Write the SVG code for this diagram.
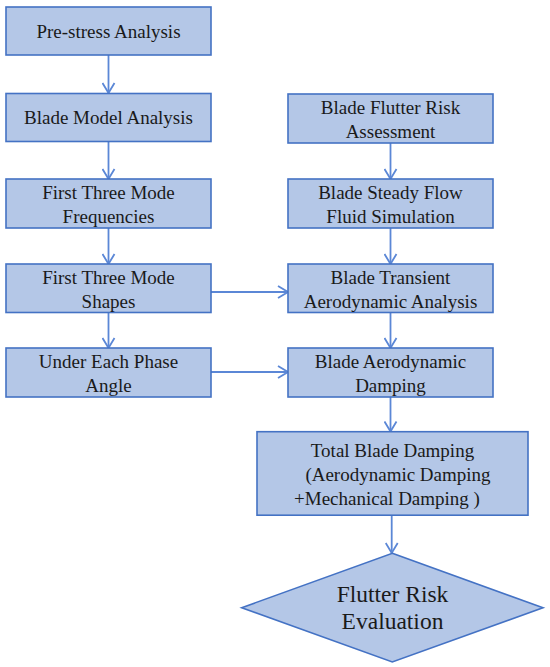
<svg xmlns="http://www.w3.org/2000/svg" width="550" height="667" viewBox="0 0 550 667">
<style>
.box{fill:#b4c7e7;stroke:#4472c4;stroke-width:1.6}
.t{font-size:19px;fill:#1a1a1a;text-anchor:middle}
.tl{font-size:23.5px;fill:#1a1a1a;text-anchor:middle}
.c{fill:none;stroke:#5b87d6;stroke-width:1.8}
</style>
<defs>
<marker id="ah" viewBox="0 0 12 14" refX="11" refY="7" markerWidth="12" markerHeight="14" markerUnits="userSpaceOnUse" orient="auto">
<path d="M1,1 L11,7 L1,13" fill="none" stroke="#5b87d6" stroke-width="1.8"/>
</marker>
</defs>
<rect width="550" height="667" fill="#ffffff"/>
<g id="connectors">
<line class="c" x1="108.5" y1="55" x2="108.5" y2="93" marker-end="url(#ah)"/>
<line class="c" x1="108.5" y1="142" x2="108.5" y2="179" marker-end="url(#ah)"/>
<line class="c" x1="108.5" y1="228" x2="108.5" y2="264" marker-end="url(#ah)"/>
<line class="c" x1="108.5" y1="312" x2="108.5" y2="348" marker-end="url(#ah)"/>
<line class="c" x1="390.5" y1="143" x2="390.5" y2="179" marker-end="url(#ah)"/>
<line class="c" x1="390.5" y1="228" x2="390.5" y2="264" marker-end="url(#ah)"/>
<line class="c" x1="390.5" y1="312" x2="390.5" y2="348" marker-end="url(#ah)"/>
<line class="c" x1="390.5" y1="397" x2="390.5" y2="431.5" marker-end="url(#ah)"/>
<line class="c" x1="391.7" y1="515" x2="391.7" y2="553" marker-end="url(#ah)"/>
<line class="c" x1="211" y1="292" x2="288" y2="292" marker-end="url(#ah)"/>
<line class="c" x1="211" y1="372" x2="288" y2="372" marker-end="url(#ah)"/>
</g>
<g font-family="Liberation Serif, Times New Roman, DejaVu Serif, serif">
<g id="n1"><rect class="box" x="6" y="7" width="205" height="48"/><text class="t" x="108.5" y="37.5">Pre-stress Analysis</text></g>
<g id="n2"><rect class="box" x="6" y="93.5" width="205" height="48"/><text class="t" x="108.5" y="124">Blade Model Analysis</text></g>
<g id="n3"><rect class="box" x="6" y="179" width="205" height="49"/><text class="t" x="108.5" y="199">First Three Mode</text><text class="t" x="108.5" y="223">Frequencies</text></g>
<g id="n4"><rect class="box" x="6" y="264" width="205" height="48.5"/><text class="t" x="108.5" y="284">First Three Mode</text><text class="t" x="108.5" y="308">Shapes</text></g>
<g id="n5"><rect class="box" x="6" y="348" width="205" height="49"/><text class="t" x="108.5" y="368">Under Each Phase</text><text class="t" x="108.5" y="392">Angle</text></g>
<g id="r1"><rect class="box" x="288" y="94" width="205" height="49"/><text class="t" x="390.5" y="114">Blade Flutter Risk</text><text class="t" x="390.5" y="138">Assessment</text></g>
<g id="r2"><rect class="box" x="288" y="179" width="205" height="49"/><text class="t" x="390.5" y="199">Blade Steady Flow</text><text class="t" x="390.5" y="223">Fluid Simulation</text></g>
<g id="r3"><rect class="box" x="288" y="264" width="205" height="48.5"/><text class="t" x="390.5" y="284">Blade Transient</text><text class="t" x="390.5" y="308">Aerodynamic Analysis</text></g>
<g id="r4"><rect class="box" x="288" y="348" width="205" height="49"/><text class="t" x="390.5" y="368">Blade Aerodynamic</text><text class="t" x="390.5" y="392">Damping</text></g>
<g id="total"><rect class="box" x="257" y="431.7" width="271" height="83.5"/><text class="t" x="392.5" y="457">Total Blade Damping</text><text class="t" x="398" y="481">(Aerodynamic Damping</text><text class="t" x="387" y="505">+Mechanical Damping )</text></g>
<g id="eval"><polygon class="box" points="392.3,553.3 543,607.7 392.3,662 241.7,607.7"/><text class="tl" x="392.5" y="602">Flutter Risk</text><text class="tl" x="392.5" y="629">Evaluation</text></g>
</g>
</svg>
